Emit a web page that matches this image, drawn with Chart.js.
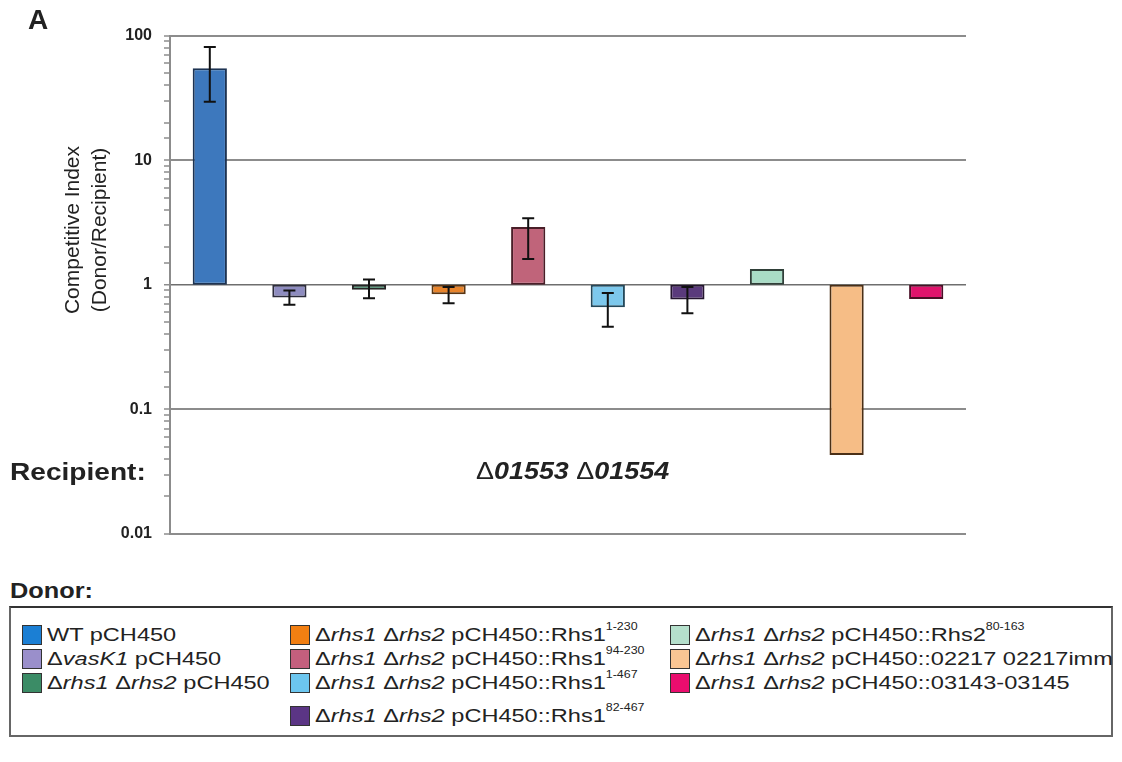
<!DOCTYPE html>
<html>
<head>
<meta charset="utf-8">
<script src="https://cdn.jsdelivr.net/npm/chart.js@4.4.1/dist/chart.umd.min.js"></script>
<style>
  body { margin: 0; background: #fff; font-family: Arial, "Liberation Sans", sans-serif; color: #222; }
  #page { position: relative; width: 1122px; height: 762px; overflow: hidden; background: #fff; }
  #chartBox { position: absolute; left: 0; top: 0; width: 1122px; height: 560px; }
  .txt { position: absolute; white-space: nowrap; transform-origin: 0 50%; }
  .panel { left: 28px; top: 4px; font-size: 28px; font-weight: bold; }
  .recipient { left: 10px; top: 458px; font-size: 24px; font-weight: bold; transform: scaleX(1.17); }
  .strain { left: 476px; top: 458px; font-size: 23px; font-weight: bold; font-style: italic; transform: scaleX(1.17); }
  .donor { left: 10px; top: 578px; font-size: 22px; font-weight: bold; transform: scaleX(1.15); }
  .delta { font-style: normal; font-weight: normal; }
  #legend { position: absolute; left: 9px; top: 606px; width: 1104px; height: 131px; box-sizing: border-box;
            border: 2px solid #666; border-top-color: #333; }
  .item { position: absolute; height: 22px; line-height: 22px; font-size: 19px; white-space: nowrap; }
  .sw { position: absolute; left: 0; top: 1px; width: 20px; height: 20px; box-sizing: border-box; border: 1.5px solid #333; }
  .lab { position: absolute; left: 25px; top: 0; transform: scaleX(1.24); transform-origin: 0 50%; }
  .lab i { font-style: italic; }
  .lab sup { font-size: 10px; position: relative; top: -8px; vertical-align: top; }
</style>
</head>
<body>
<div id="page">
  <div id="chartBox"><canvas id="chart"></canvas></div>
  <div class="txt panel">A</div>
  <div class="txt recipient">Recipient:</div>
  <div class="txt strain"><span class="delta">Δ</span>01553 <span class="delta">Δ</span>01554</div>
  <div class="txt donor">Donor:</div>
  <div id="legend"></div>
</div>
<script>
// donor strains, in bar order
const donors = [
  'WT pCH450',
  'Δ<i>vasK1</i> pCH450',
  'Δ<i>rhs1</i> Δ<i>rhs2</i> pCH450',
  'Δ<i>rhs1</i> Δ<i>rhs2</i> pCH450::Rhs1<sup>1-230</sup>',
  'Δ<i>rhs1</i> Δ<i>rhs2</i> pCH450::Rhs1<sup>94-230</sup>',
  'Δ<i>rhs1</i> Δ<i>rhs2</i> pCH450::Rhs1<sup>1-467</sup>',
  'Δ<i>rhs1</i> Δ<i>rhs2</i> pCH450::Rhs1<sup>82-467</sup>',
  'Δ<i>rhs1</i> Δ<i>rhs2</i> pCH450::Rhs2<sup>80-163</sup>',
  'Δ<i>rhs1</i> Δ<i>rhs2</i> pCH450::02217 02217imm',
  'Δ<i>rhs1</i> Δ<i>rhs2</i> pCH450::03143-03145'
];

// competitive index (donor/recipient) and error bar ends
const competitiveIndex = [54.5, 0.79, 0.91, 0.84, 2.90, 0.66, 0.76, 1.34, 0.043, 0.77];
const errorHigh = [81, 0.90, 1.10, 0.96, 3.42, 0.86, 0.96, null, null, null];
const errorLow = [29.4, 0.69, 0.78, 0.71, 1.61, 0.46, 0.59, null, null, null];

const yTickLabels = ['0.01', '0.1', '1', '10', '100'];

const barColors = ['#3d78bd', '#8e8cc0', '#3f8a68', '#e8842c', '#c0647a', '#7dc8ec',
                   '#5a3a7c', '#a9dcc6', '#f6bd86', '#e0136c'];
const barBorders = ['#1d3352', '#2c2c3c', '#262626', '#5a3512', '#4a1e28', '#24485a',
                    '#24152f', '#2f3f38', '#4a2f16', '#4a0f26'];
const legendSwatches = ['#1b7fd4', '#9a8fcb', '#3b8c66', '#f27f12', '#c45f7d', '#6cc6ef',
                        '#5b3585', '#b5e0cc', '#f9c593', '#ea0d6e'];

// legend layout: column x and row y (relative to the legend box)
const legendCols = [11, 279, 659];
const legendRows = [16, 40, 64, 97];
const legendSlots = [[0, 0], [0, 1], [0, 2], [1, 0], [1, 1], [1, 2], [1, 3], [2, 0], [2, 1], [2, 2]];

const legend = document.getElementById('legend');
donors.forEach((d, i) => {
  const [c, r] = legendSlots[i];
  const item = document.createElement('div');
  item.className = 'item';
  item.style.left = legendCols[c] + 'px';
  item.style.top = legendRows[r] + 'px';
  item.innerHTML = '<span class="sw" style="background:' + legendSwatches[i] + '"></span>' +
                   '<span class="lab">' + d + '</span>';
  legend.appendChild(item);
});

const isDecade = v => Math.abs(Math.log10(v) - Math.round(Math.log10(v))) < 1e-6;

// vertical error bars with caps
const errorBars = {
  id: 'errorBars',
  afterDatasetsDraw(chart) {
    const { ctx } = chart;
    const y = chart.scales.y;
    const meta = chart.getDatasetMeta(0);
    ctx.save();
    ctx.strokeStyle = '#111';
    ctx.lineWidth = 2;
    meta.data.forEach((bar, i) => {
      if (errorHigh[i] == null) return;
      const yh = y.getPixelForValue(errorHigh[i]);
      const yl = y.getPixelForValue(errorLow[i]);
      ctx.beginPath();
      ctx.moveTo(bar.x, yh); ctx.lineTo(bar.x, yl);
      ctx.moveTo(bar.x - 6, yh); ctx.lineTo(bar.x + 6, yh);
      ctx.moveTo(bar.x - 6, yl); ctx.lineTo(bar.x + 6, yl);
      ctx.stroke();
    });
    ctx.restore();
  }
};

// two-line axis title
const axisTitle = {
  id: 'axisTitle',
  afterDraw(chart) {
    const { ctx } = chart;
    ctx.save();
    ctx.translate(86, 230);
    ctx.rotate(-Math.PI / 2);
    ctx.fillStyle = '#222';
    ctx.font = '21px Arial, "Liberation Sans", sans-serif';
    ctx.textAlign = 'center';
    ctx.textBaseline = 'middle';
    ctx.fillText('Competitive Index', 0, -13);
    ctx.fillText('(Donor/Recipient)', 0, 14);
    ctx.restore();
  }
};

new Chart(document.getElementById('chart'), {
  type: 'bar',
  data: {
    labels: donors,
    datasets: [{
      data: competitiveIndex.map(v => [1, v]),
      backgroundColor: barColors,
      borderColor: barBorders,
      borderWidth: 2,
      borderSkipped: false,
      categoryPercentage: 1,
      barPercentage: 0.43
    }]
  },
  options: {
    responsive: true,
    maintainAspectRatio: false,
    animation: false,
    layout: { padding: { left: 0, top: 35.5, right: 156, bottom: 26 } },
    plugins: {
      legend: { display: false },
      tooltip: { enabled: false }
    },
    scales: {
      x: {
        afterFit: s => { s.height = 0; },
        grid: { display: false },
        ticks: { display: false },
        border: { display: false }
      },
      y: {
        type: 'logarithmic',
        min: 0.01,
        max: 100,
        afterFit: s => { s.width = 170; },
        border: { color: '#8c8c8c', width: 2 },
        grid: {
          color: c => isDecade(c.tick.value) ? (c.tick.value === 1 ? '#6e6e6e' : '#8c8c8c') : 'rgba(0,0,0,0)',
          lineWidth: c => c.tick && c.tick.value === 1 ? 1.5 : 2,
          tickColor: '#8c8c8c',
          tickWidth: 1.5,
          tickLength: 6
        },
        ticks: {
          autoSkip: false,
          padding: 12,
          color: '#222',
          font: { family: 'Arial, "Liberation Sans", sans-serif', size: 16, weight: 'bold' },
          callback: v => {
            if (!isDecade(v)) return '';
            const k = Math.round(Math.log10(v)) + 2;
            return yTickLabels[k];
          }
        }
      }
    }
  },
  plugins: [errorBars, axisTitle]
});
</script>
</body>
</html>
